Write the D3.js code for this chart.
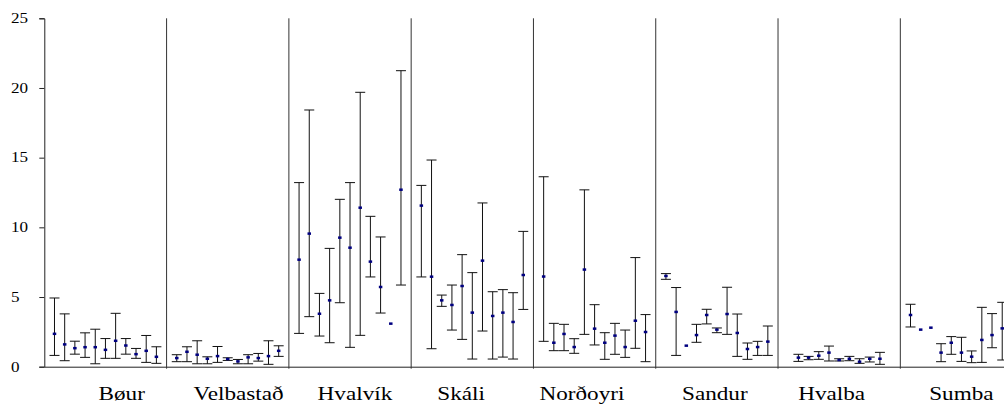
<!DOCTYPE html>
<html>
<head>
<meta charset="utf-8">
<script src="https://cdn.jsdelivr.net/npm/d3@7"></script>
<style>
  body { margin: 0; background: #fff; }
  svg { display: block; }
</style>
</head>
<body>
<svg id="chart" width="1004" height="405"></svg>
<script>
// Sampling sites, one panel each
const sites = ["Bøur", "Velbastað", "Hvalvík", "Skáli", "Norðoyri", "Sandur", "Hvalba", "Sumba"];

// Y axis tick values
const yTicks = [0, 5, 10, 15, 20, 25];

// Mean value per sample (null = no sample in that slot)
const meanValues = [
  [2.36, 1.60, 1.33, 1.40, 1.40, 1.21, 1.86, 1.52, 0.90, 1.14, 0.71],
  [0.62, 1.07, 0.86, 0.57, 0.76, 0.55, 0.38, 0.67, 0.62, 0.76, 1.14],
  [7.68, 9.55, 3.80, 4.76, 9.26, 8.54, 11.41, 7.54, 5.72, 3.09, 12.70],
  [11.56, 6.46, 4.76, 4.43, 5.79, 3.88, 7.61, 3.64, 3.88, 3.21, 6.58],
  [6.47, 1.72, 2.35, 1.41, 6.97, 2.73, 1.72, 2.23, 1.41, 3.30, 2.49],
  [6.51, 3.93, 1.51, 2.27, 3.71, 2.66, 3.78, 2.42, 1.27, 1.41, 1.80],
  [null, 0.65, 0.65, 0.79, 1.01, 0.48, 0.57, 0.36, 0.57, 0.57, null],
  [3.71, 2.66, 2.80, 1.01, 1.72, 1.01, 0.72, 1.92, 2.27, 2.75, null]
];

// Lower end of the interval (null = single observation, no bar)
const lowerValues = [
  [0.81, 0.43, 0.90, 0.67, 0.21, 0.60, 0.60, 0.90, 0.60, 0.31, 0.24],
  [0.36, 0.36, 0.21, 0.21, 0.31, 0.45, 0.21, 0.21, 0.40, 0.17, 0.74],
  [2.39, 3.59, 2.20, 1.72, 4.59, 1.39, 2.25, 6.44, 3.85, null, 5.86],
  [6.44, 1.29, 4.33, 2.63, 1.96, 0.55, 2.56, 0.55, 0.69, 0.55, 4.11],
  [1.82, 1.15, 1.15, 0.96, 2.32, 1.56, 0.53, 0.89, 0.67, 1.32, 0.36],
  [6.27, 0.81, null, 1.75, 3.07, 2.44, 2.32, 0.74, 0.53, 0.81, 0.81],
  [null, 0.38, 0.50, 0.53, 0.41, 0.41, 0.43, 0.24, 0.34, 0.17, null],
  [2.85, null, null, 0.36, 0.89, 0.38, 0.29, 0.31, 1.36, 0.48, null]
];

// Upper end of the interval
const upperValues = [
  [4.93, 3.79, 1.83, 2.43, 2.69, 2.02, 3.83, 2.02, 1.31, 2.24, 1.43],
  [0.86, 1.43, 1.86, 0.71, 1.45, 0.64, 0.52, 0.86, 0.95, 1.86, 1.50],
  [13.21, 18.42, 5.26, 8.49, 12.01, 13.21, 19.69, 10.79, 9.31, null, 21.24],
  [13.01, 14.83, 5.14, 5.86, 8.04, 6.75, 11.75, 5.38, 5.53, 5.31, 9.71],
  [13.63, 3.11, 3.04, 2.01, 12.69, 4.45, 2.44, 3.11, 2.63, 7.83, 3.74],
  [6.68, 5.68, null, 3.04, 4.12, 2.78, 5.70, 3.78, 1.70, 1.82, 2.92],
  [null, 0.89, 0.74, 1.08, 1.48, 0.57, 0.74, 0.57, 0.69, 1.03, null],
  [4.48, null, null, 1.65, 2.16, 2.11, 1.13, 4.26, 3.81, 4.62, null]
];

// Layout: each site occupies 12 slots (slot 0 holds the divider)
const slotsPerSite = 12;
const labelSlot = [7.6, 7.07, 6.48, 4.9, 4.76, 5.8, 5.26, 5.99];

const svg = d3.select("#chart");
const plotLeft = 44.3, plotRight = 1022.6, plotTop = 18.3, plotBottom = 366.7;

const x = d3.scaleLinear()
  .domain([0, sites.length * slotsPerSite])
  .range([plotLeft, plotRight]);
const y = d3.scaleLinear().domain([0, 25]).range([plotBottom, plotTop]);

const serif = "'Liberation Serif', 'Times New Roman', serif";
const stretch = 1.22;

// Y axis
const yAxis = d3.axisLeft(y).tickValues(yTicks).tickSize(5).tickFormat("");
const gy = svg.append("g").attr("transform", `translate(${plotLeft},0)`).call(yAxis);
gy.select(".domain").attr("stroke", "#222");
gy.selectAll(".tick line").attr("stroke", "#222");

svg.append("g").selectAll("text")
  .data(yTicks)
  .join("text")
  .attr("transform", d => `translate(11,${y(d) + 4.8}) scale(${stretch},1)`)
  .attr("font-family", serif)
  .attr("font-size", 14)
  .attr("fill", "#000")
  .text(d => d);

// X axis baseline
const xAxis = d3.axisBottom(x).tickValues([]).tickSizeOuter(0);
const gx = svg.append("g").attr("transform", `translate(0,${plotBottom})`).call(xAxis);
gx.select(".domain").attr("stroke", "#222");

// Dividers between sites
svg.append("g").selectAll("line")
  .data(d3.range(1, sites.length))
  .join("line")
  .attr("x1", g => x(g * slotsPerSite)).attr("x2", g => x(g * slotsPerSite))
  .attr("y1", y(25)).attr("y2", plotBottom + 2)
  .attr("stroke", "#333").attr("stroke-width", 1);

// Flatten samples into one list
const samples = [];
sites.forEach((site, g) => {
  meanValues[g].forEach((m, k) => {
    if (m == null) return;
    samples.push({
      slot: g * slotsPerSite + k + 1,
      mean: m,
      lo: lowerValues[g][k],
      hi: upperValues[g][k]
    });
  });
});

const bars = samples.filter(d => d.lo != null && d.hi != null);
const capHalf = 5;
const eb = svg.append("g").attr("stroke", "#111").attr("stroke-width", 1);

eb.selectAll("line.stem")
  .data(bars)
  .join("line")
  .attr("class", "stem")
  .attr("x1", d => x(d.slot)).attr("x2", d => x(d.slot))
  .attr("y1", d => y(d.hi)).attr("y2", d => y(d.lo));

eb.selectAll("line.capTop")
  .data(bars)
  .join("line")
  .attr("class", "capTop")
  .attr("x1", d => x(d.slot) - capHalf).attr("x2", d => x(d.slot) + capHalf)
  .attr("y1", d => y(d.hi)).attr("y2", d => y(d.hi));

eb.selectAll("line.capBot")
  .data(bars)
  .join("line")
  .attr("class", "capBot")
  .attr("x1", d => x(d.slot) - capHalf).attr("x2", d => x(d.slot) + capHalf)
  .attr("y1", d => y(d.lo)).attr("y2", d => y(d.lo));

// Mean markers
svg.append("g").selectAll("rect")
  .data(samples)
  .join("rect")
  .attr("x", d => x(d.slot) - 1.75)
  .attr("y", d => y(d.mean) - 1.25)
  .attr("width", 3.5)
  .attr("height", 2.5)
  .attr("fill", "#000080");

// Site names
svg.append("g").selectAll("text")
  .data(sites)
  .join("text")
  .attr("transform", (s, g) => `translate(${x(g * slotsPerSite + labelSlot[g])},400) scale(${stretch},1)`)
  .attr("text-anchor", "middle")
  .attr("font-family", serif)
  .attr("font-size", 19)
  .attr("fill", "#000")
  .text(s => s);
</script>
</body>
</html>
